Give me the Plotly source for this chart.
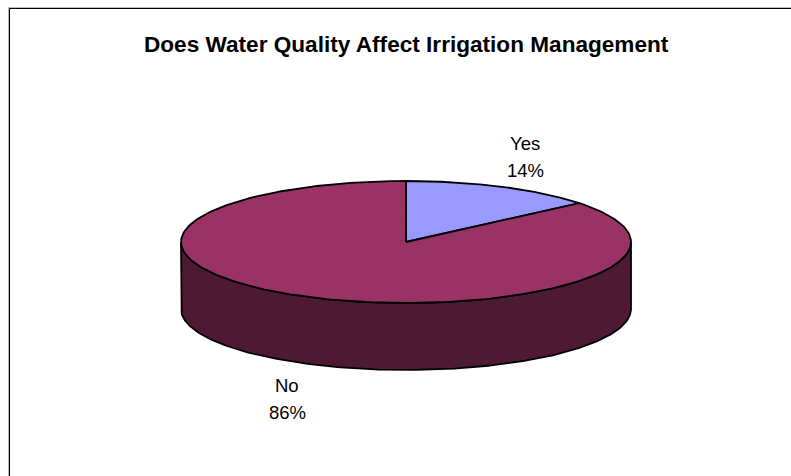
"""3D-looking Excel pie: Does Water Quality Affect Irrigation Management."""

import numpy as np
import plotly.graph_objects as go

LABELS = ["Yes", "No"]
SHARES = [14, 86]
TOP_COLORS = ["#9999FF", "#993366"]
SIDE_COLOR = "#4D1933"
TITLE = "Does Water Quality Affect Irrigation Management"

FONT = "Liberation Sans, Arial, sans-serif"
WIDTH, HEIGHT = 791, 476
CX, CY, RX, RY, DEPTH = 406, 242, 225, 61, 67
EDGE = {"color": "#000000", "width": 1.8}


def rim(start, stop, drop=0.0, steps=240):
    # angles in degrees clockwise from 12 o'clock, pixel y runs downward
    theta = np.radians(np.linspace(start, stop, steps))
    return CX + RX * np.sin(theta), CY - RY * np.cos(theta) + drop


figure = go.Figure()

# side wall: front half of the rim, then back along the lower edge
top_x, top_y = rim(90, 270)
low_x, low_y = rim(270, 90, drop=DEPTH)
figure.add_trace(go.Scatter(
    x=np.concatenate([top_x, low_x, top_x[:1]]),
    y=np.concatenate([top_y, low_y, top_y[:1]]),
    mode="lines",
    fill="toself",
    fillcolor=SIDE_COLOR,
    line=EDGE,
    hoverinfo="skip",
    showlegend=False,
))

# top face wedges, sized from the shares
start = 0.0
for label, share, color in zip(LABELS, SHARES, TOP_COLORS):
    stop = start + 360.0 * share / sum(SHARES)
    edge_x, edge_y = rim(start, stop)
    figure.add_trace(go.Scatter(
        x=np.concatenate([[CX], edge_x, [CX]]),
        y=np.concatenate([[CY], edge_y, [CY]]),
        mode="lines",
        fill="toself",
        fillcolor=color,
        line=EDGE,
        name=label,
        hoverinfo="name",
        showlegend=False,
    ))
    start = stop

# Excel spaces its label lines wider than Plotly's <br>, so each line is its own text
figure.add_annotation(x=525, y=143, text=LABELS[0], showarrow=False)
figure.add_annotation(x=525, y=170, text=f"{SHARES[0]}%", showarrow=False)
figure.add_annotation(x=287, y=385, text=LABELS[1], showarrow=False)
figure.add_annotation(x=287, y=412, text=f"{SHARES[1]}%", showarrow=False)
figure.add_annotation(
    x=406, y=44, text=f"<b>{TITLE}</b>", showarrow=False,
    font={"family": FONT, "size": 22.6, "color": "#000000"},
)

# the chart frame runs off the page on the right and bottom, with a grey line outside it
figure.add_shape(
    type="rect", x0=8.5, y0=7.5, x1=WIDTH + 20, y1=HEIGHT + 20,
    line={"color": "#B8B8B8", "width": 1},
)
figure.add_shape(
    type="rect", x0=9.5, y0=8.5, x1=WIDTH + 20, y1=HEIGHT + 20,
    line={"color": "#000000", "width": 1},
)

figure.update_xaxes(range=[0, WIDTH], visible=False, fixedrange=True)
figure.update_yaxes(range=[HEIGHT, 0], visible=False, fixedrange=True)
figure.update_layout(
    width=WIDTH,
    height=HEIGHT,
    margin={"l": 0, "r": 0, "t": 0, "b": 0},
    paper_bgcolor="#FFFFFF",
    plot_bgcolor="#FFFFFF",
    font={"family": FONT, "size": 18.5, "color": "#000000"},
)

figure.write_html(
    "out.html",
    config={"displayModeBar": False},
    post_script="document.body.style.margin = '0'; document.body.style.overflow = 'hidden';",
)
